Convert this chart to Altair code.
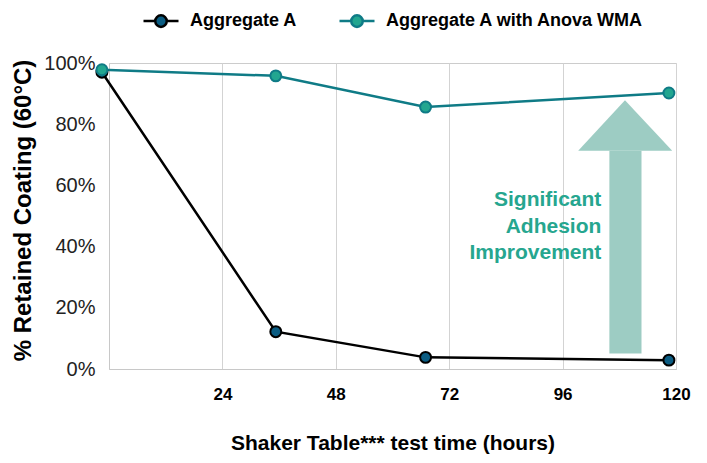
import altair as alt
import pandas as pd

# ---- data ----
hours = [-1.5, 35.3, 67.0, 118.5]
agg_a = [0.970, 0.122, 0.038, 0.029]
agg_a_wma = [0.978, 0.958, 0.856, 0.902]
series_names = ["Aggregate A", "Aggregate A with Anova WMA"]
x_ticks = [24, 48, 72, 96, 120]
y_ticks = [0, 0.2, 0.4, 0.6, 0.8, 1.0]

# annotation arrow (data units)
shaft_x = [105.9, 112.7]
shaft_y = [0.051, 0.713]
head_x = [99.3, 109.2, 119.2]
head_y = [0.713, 0.878, 0.713]
note_x = 104.2
note_y = 0.552
note_text = "Significant\nAdhesion\nImprovement"

FONT = "Liberation Sans"

rows = []
for h, a, b in zip(hours, agg_a, agg_a_wma):
    rows.append({"hours": h, "value": a, "series": series_names[0]})
    rows.append({"hours": h, "value": b, "series": series_names[1]})
df = pd.DataFrame(rows)

shaft_df = pd.DataFrame({"x": [shaft_x[0]], "x2": [shaft_x[1]], "y": [shaft_y[0]], "y2": [shaft_y[1]]})
head_df = pd.DataFrame({"x": head_x, "y": head_y, "y2": [head_y[0]] * 3})
note_df = pd.DataFrame({"x": [note_x], "y": [note_y], "t": [note_text]})

x_scale = alt.Scale(domain=[0, 120], nice=False, zero=False)
y_scale = alt.Scale(domain=[0, 1], nice=False)

x_axis = alt.Axis(values=x_ticks, grid=True, gridColor="#D3D3D3", gridWidth=1,
                  domainColor="#C8C8C8", ticks=False, tickSize=0,
                  labelFont=FONT, labelFontSize=17, labelFontWeight="bold", labelColor="#000000",
                  labelPadding=17, labelFlush=False,
                  title="Shaker Table*** test time (hours)", titleFont=FONT, titleFontSize=21,
                  titleFontWeight="bold", titleColor="#000000",
                  titleX=283.5, titleY=80, titleBaseline="alphabetic", titleAnchor="middle")
y_axis = alt.Axis(values=y_ticks, format=".0%", grid=False, domainColor="#C8C8C8",
                  ticks=False, tickSize=0,
                  labelFont=FONT, labelFontSize=20, labelColor="#222222", labelPadding=14,
                  title="% Retained Coating (60°C)", titleFont=FONT, titleFontSize=24,
                  titleFontWeight="bold", titleColor="#000000",
                  titleAngle=270, titleX=-86, titleY=147, titleAlign="center", titleBaseline="middle")

fill_scale = alt.Scale(domain=series_names, range=["#0B5C82", "#22A690"])
stroke_scale = alt.Scale(domain=series_names, range=["#000000", "#0F7B86"])
legend = alt.Legend(title=None)

base = alt.Chart(df)
lines = base.mark_line(strokeWidth=2.5).encode(
    x=alt.X("hours:Q", scale=x_scale, axis=x_axis),
    y=alt.Y("value:Q", scale=y_scale, axis=y_axis),
    stroke=alt.Stroke("series:N", scale=stroke_scale, legend=legend),
    detail="series:N",
)
points = base.mark_point(shape="circle", filled=True, size=120, strokeWidth=2, opacity=1).encode(
    x=alt.X("hours:Q", scale=x_scale),
    y=alt.Y("value:Q", scale=y_scale),
    fill=alt.Fill("series:N", scale=fill_scale, legend=legend),
    stroke=alt.Stroke("series:N", scale=stroke_scale, legend=legend),
)

shaft = alt.Chart(shaft_df).mark_rect(color="#9DCCC3").encode(
    x=alt.X("x:Q", scale=x_scale), x2="x2:Q",
    y=alt.Y("y:Q", scale=y_scale), y2="y2:Q",
)
head = alt.Chart(head_df).mark_area(color="#9DCCC3", opacity=1).encode(
    x=alt.X("x:Q", scale=x_scale),
    y=alt.Y("y:Q", scale=y_scale), y2="y2:Q",
)
note = alt.Chart(note_df).mark_text(align="right", baseline="middle", font=FONT, fontSize=21,
                                    fontWeight="bold", color="#26A68F", lineBreak="\n",
                                    lineHeight=26.7).encode(
    x=alt.X("x:Q", scale=x_scale),
    y=alt.Y("y:Q", scale=y_scale),
    text="t:N",
)

legend_symbol = "M-1,0H-0.33M0.33,0H1M-0.33,0A0.33,0.33,0,1,0,0.33,0A0.33,0.33,0,1,0,-0.33,0Z"

chart = alt.layer(shaft, head, note, lines, points).properties(
    width=567, height=306,
    autosize=alt.AutoSizeParams(type="none"),
    padding={"left": 101, "top": 55, "right": 23, "bottom": 86},
).configure_view(
    stroke="#CCCCCC", strokeWidth=1
).configure_legend(
    orient="none", legendX=33, legendY=-61, direction="horizontal",
    symbolType=legend_symbol, symbolSize=1225, symbolStrokeWidth=2.5,
    labelFont=FONT, labelFontSize=18, labelFontWeight="bold", labelColor="#000000",
    labelOffset=10, columnPadding=36, padding=0, labelLimit=400,
)

chart.save("out.html", embed_options={"renderer": "svg", "actions": False})
